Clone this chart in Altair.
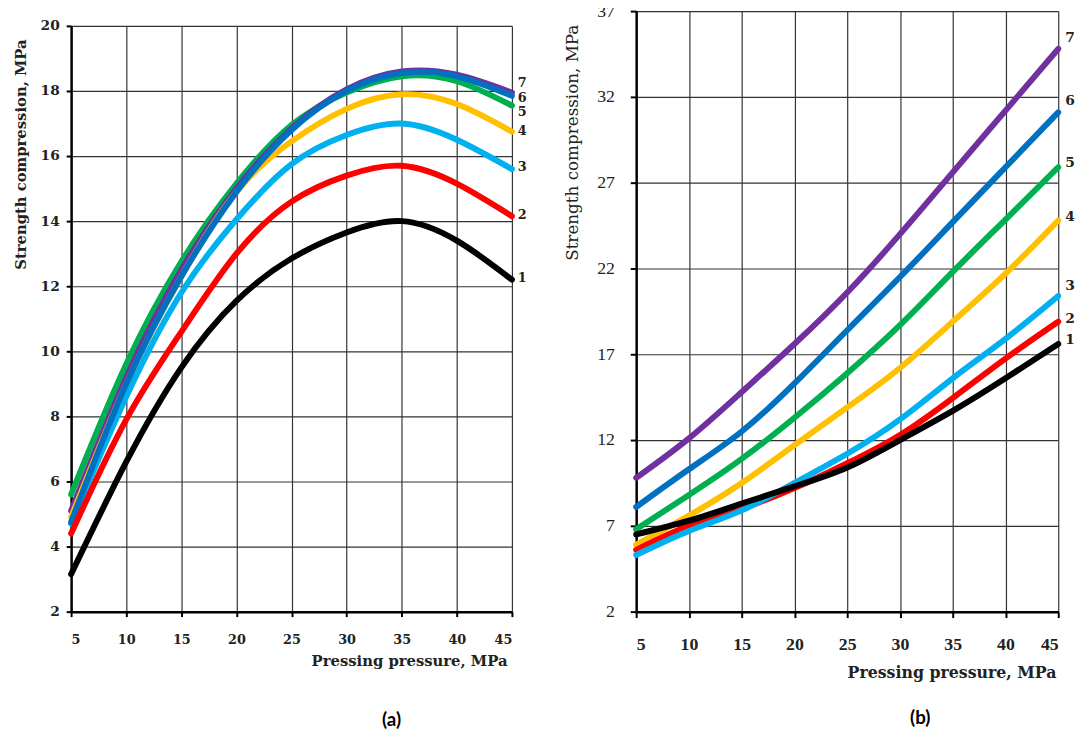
import altair as alt
import pandas as pd

pressure = [5, 10, 15, 20, 25, 30, 35, 40, 45]
series = ["1", "2", "3", "4", "5", "6", "7"]
palette = ["#000000", "#FF0000", "#00B0F0", "#FFC000", "#00B050", "#0070C0", "#7030A0"]

# panel (a)
a_s1 = [3.15, 6.6, 9.5, 11.55, 12.85, 13.65, 14.0, 13.4, 12.2]
a_s2 = [4.4, 7.9, 10.6, 13.0, 14.6, 15.4, 15.7, 15.15, 14.15]
a_s3 = [4.7, 8.6, 11.8, 14.05, 15.75, 16.65, 17.0, 16.5, 15.6]
a_s4 = [4.9, 9.0, 12.3, 14.9, 16.45, 17.45, 17.9, 17.6, 16.75]
a_s5 = [5.6, 9.6, 12.75, 15.15, 16.95, 17.95, 18.45, 18.3, 17.55]
a_s6 = [4.75, 9.0, 12.3, 14.9, 16.8, 18.0, 18.55, 18.45, 17.85]
a_s7 = [5.1, 9.2, 12.5, 15.0, 16.85, 18.05, 18.6, 18.5, 17.95]
a_label_y = [12.24, 14.18, 15.67, 16.76, 17.36, 17.79, 18.24]
a_y_ticks = [2, 4, 6, 8, 10, 12, 14, 16, 18, 20]

# panel (b)
b_s1 = [6.5, 7.3, 8.3, 9.3, 10.4, 12.0, 13.7, 15.6, 17.6]
b_s2 = [5.6, 7.0, 8.0, 9.2, 10.65, 12.3, 14.45, 16.75, 18.9]
b_s3 = [5.3, 6.7, 7.9, 9.5, 11.2, 13.2, 15.6, 17.9, 20.4]
b_s4 = [5.9, 7.6, 9.5, 11.7, 13.9, 16.2, 18.9, 21.7, 24.8]
b_s5 = [6.8, 8.8, 10.9, 13.3, 15.9, 18.7, 21.8, 24.85, 27.9]
b_s6 = [8.1, 10.3, 12.5, 15.3, 18.4, 21.5, 24.7, 27.9, 31.1]
b_s7 = [9.8, 12.1, 14.8, 17.6, 20.6, 24.0, 27.6, 31.2, 34.8]
b_label_y = [17.81, 19.06, 20.97, 24.99, 28.14, 31.78, 35.41]
b_y_ticks = [2, 7, 12, 17, 22, 27, 32, 37]

a_values = [a_s1, a_s2, a_s3, a_s4, a_s5, a_s6, a_s7]
b_values = [b_s1, b_s2, b_s3, b_s4, b_s5, b_s6, b_s7]


def long_df(values):
    rows = []
    for name, vals in zip(series, values):
        for p, v in zip(pressure, vals):
            rows.append({"pressure": p, "strength": v, "series": name})
    return pd.DataFrame(rows)


def label_df(ys):
    return pd.DataFrame({"pressure": [pressure[-1]] * len(series), "strength": ys, "series": series})


color_of = dict(zip(series, palette))

# ---------- panel (a)
xa = alt.X(
    "pressure:Q",
    scale=alt.Scale(domain=[5, 45], nice=False, zero=False),
    axis=alt.Axis(
        values=pressure, grid=True, gridColor="#333333", gridWidth=1.2,
        domainColor="#000000", domainWidth=2.5, tickColor="#000000", tickWidth=2, tickSize=5,
        labelFont="DejaVu Serif", labelFontWeight="bold", labelFontSize=13, labelColor="#222222",
        labelPadding=17,
        title="Pressing pressure, MPa", titleFont="DejaVu Serif", titleFontWeight="bold",
        titleFontSize=15, titleColor="#222222", titleX=442, titleY=50,
        titleAlign="right", titleBaseline="middle",
    ),
)
ya = alt.Y(
    "strength:Q",
    scale=alt.Scale(domain=[2, 20], nice=False, zero=False),
    axis=alt.Axis(
        values=a_y_ticks, grid=True, gridColor="#333333", gridWidth=1.2,
        domainColor="#000000", domainWidth=2.5, tickColor="#000000", tickWidth=2, tickSize=5,
        labelFont="DejaVu Serif", labelFontWeight="bold", labelFontSize=14, labelColor="#222222",
        labelPadding=7,
        title="Strength compression, MPa", titleFont="DejaVu Serif", titleFontWeight="bold",
        titleFontSize=15, titleColor="#222222", titleX=-51, titleY=130,
        titleAngle=270, titleAlign="center", titleBaseline="middle",
    ),
)

df_a = long_df(a_values)
order_a = ["5", "7", "4", "3", "6", "2", "1"]
layers_a = []
for s in order_a:
    layers_a.append(
        alt.Chart(df_a).transform_filter(alt.datum.series == s)
        .mark_line(interpolate="natural", strokeWidth=6, color=color_of[s], strokeCap="round")
        .encode(x=xa, y=ya)
    )
labels_a = alt.Chart(label_df(a_label_y)).mark_text(
    align="left", baseline="middle", dx=6, font="DejaVu Serif", fontWeight="bold", fontSize=13, color="#222222"
).encode(x=xa, y=ya, text="series:N")
caption_a = alt.Chart(pd.DataFrame({"cap": ["(a)"]})).mark_text(
    font="Lato", fontWeight="bold", fontSize=19, color="#000000"
).encode(text="cap:N", x=alt.value(325), y=alt.value(704))

panel_a_core = alt.layer(*layers_a, labels_a, caption_a).properties(width=447, height=594)
spacer = alt.Chart(pd.DataFrame({"t": [""]})).mark_text().encode(text="t:N").properties(width=447, height=6)
panel_a = alt.vconcat(spacer, panel_a_core, spacing=0)

# ---------- panel (b)
xb = alt.X(
    "pressure:Q",
    scale=alt.Scale(domain=[5, 45], nice=False, zero=False),
    axis=alt.Axis(
        values=pressure, grid=True, gridColor="#333333", gridWidth=1.2,
        domainColor="#000000", domainWidth=2.5, tickColor="#000000", tickWidth=2, tickSize=6,
        labelFont="Liberation Serif", labelFontWeight="bold", labelFontSize=18, labelColor="#222222",
        labelPadding=18,
        title="Pressing pressure, MPa", titleFont="DejaVu Serif", titleFontWeight="bold",
        titleFontSize=16, titleColor="#222222", titleX=425.7, titleY=62,
        titleAlign="right", titleBaseline="middle",
    ),
)
yb = alt.Y(
    "strength:Q",
    scale=alt.Scale(domain=[2, 37], nice=False, zero=False),
    axis=alt.Axis(
        values=b_y_ticks, grid=True, gridColor="#333333", gridWidth=1.2,
        domainColor="#000000", domainWidth=2.5, tickColor="#000000", tickWidth=2, tickSize=6,
        labelFont="Liberation Serif", labelFontSize=18, labelColor="#222222",
        labelPadding=16,
        title="Strength compression, MPa", titleFont="DejaVu Serif", titleFontWeight="normal",
        titleFontSize=17, titleColor="#222222", titleX=-64.3, titleY=133,
        titleAngle=270, titleAlign="center", titleBaseline="middle",
    ),
)

df_b = long_df(b_values)
order_b = ["7", "6", "5", "4", "2", "3", "1"]
layers_b = []
for s in order_b:
    layers_b.append(
        alt.Chart(df_b).transform_filter(alt.datum.series == s)
        .mark_line(interpolate="natural", strokeWidth=6, color=color_of[s], strokeCap="round")
        .encode(x=xb, y=yb)
    )
labels_b = alt.Chart(label_df(b_label_y)).mark_text(
    align="left", baseline="middle", dx=7, font="DejaVu Serif", fontWeight="bold", fontSize=14, color="#222222"
).encode(x=xb, y=yb, text="series:N")
caption_b = alt.Chart(pd.DataFrame({"cap": ["(b)"]})).mark_text(
    font="Lato", fontWeight="bold", fontSize=19, color="#000000"
).encode(text="cap:N", x=alt.value(288), y=alt.value(717))

panel_b = alt.layer(*layers_b, labels_b, caption_b).properties(width=428, height=609)

chart = (
    alt.hconcat(panel_a, panel_b, spacing=36)
    .properties(padding={"left": 5, "top": -11, "right": 0, "bottom": 4}, background="white")
    .configure_view(stroke=None)
)

chart.save("out.html", embed_options={"renderer": "svg", "actions": False})
